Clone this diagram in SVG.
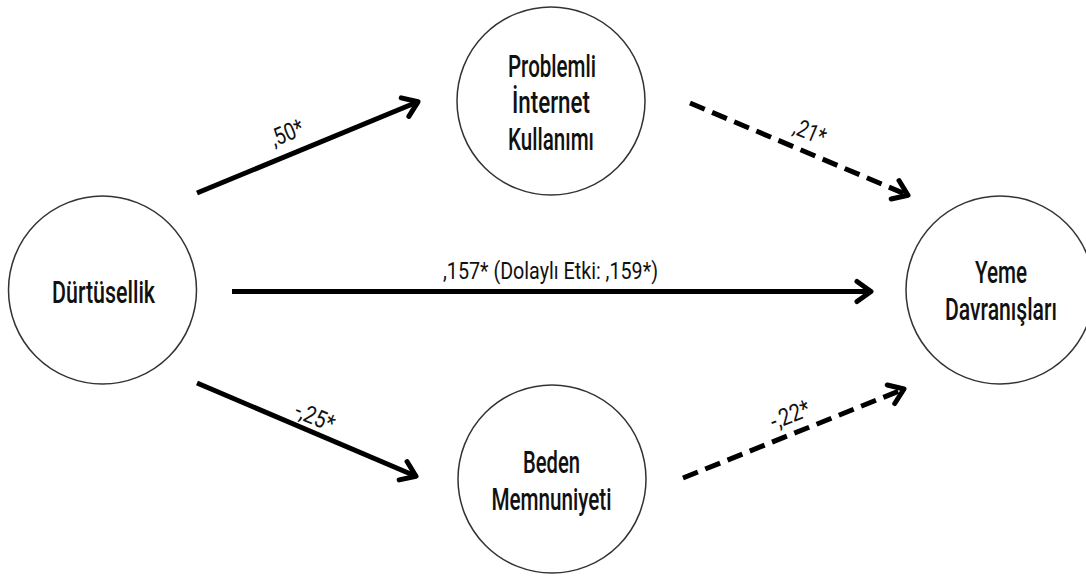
<svg xmlns="http://www.w3.org/2000/svg" width="1086" height="577" viewBox="0 0 1086 577">
<defs>
<style>
.node circle{fill:#fff;stroke:#333;stroke-width:1.5}
.nt{font-family:Roboto,"DejaVu Sans",sans-serif;font-weight:500;font-size:32px;fill:#111;text-anchor:middle}
.lbl{font-family:Roboto,"DejaVu Sans",sans-serif;font-weight:400;font-size:24px;fill:#111;text-anchor:middle}
.edge{fill:none;stroke:#000;stroke-width:5;marker-end:url(#arrow)}
.dash{stroke-dasharray:16 8}
</style>
<marker id="arrow" markerUnits="userSpaceOnUse" markerWidth="30" markerHeight="30" viewBox="-20 -15 30 30" refX="0" refY="0" orient="auto">
<path d="M-14,-10 L0,0 L-14,10" fill="none" stroke="#000" stroke-width="5" stroke-linecap="round" stroke-linejoin="round"/>
</marker>
</defs>
<rect width="1086" height="577" fill="#fff"/>
<g id="connectors">
<path class="edge" d="M197,193 L418,101.8"/>
<path class="edge dash" d="M690,103 L908,195.2"/>
<path class="edge" d="M232,291.5 L871,291.5"/>
<path class="edge" d="M197,383 L416,476.2"/>
<path class="edge dash" d="M683,478 L904,389"/>
<text class="lbl" transform="translate(287,133) rotate(-22.4)" y="8" textLength="34" lengthAdjust="spacingAndGlyphs">,50*</text>
<text class="lbl" transform="translate(810,132) rotate(22.8)" y="8" textLength="33" lengthAdjust="spacingAndGlyphs">,21*</text>
<text class="lbl" x="550.5" y="279" textLength="215" lengthAdjust="spacingAndGlyphs">,157* (Dolaylı Etki: ,159*)</text>
<text class="lbl" transform="translate(315,417) rotate(22.8)" y="8" textLength="41" lengthAdjust="spacingAndGlyphs">-,25*</text>
<text class="lbl" transform="translate(790,415) rotate(-22)" y="8" textLength="41" lengthAdjust="spacingAndGlyphs">-,22*</text>
</g>
<g id="node-durtusellik" class="node">
<circle cx="102.5" cy="290" r="94"/>
<text class="nt" x="103.5" y="303" textLength="103" lengthAdjust="spacingAndGlyphs">Dürtüsellik</text>
</g>
<g id="node-problemli" class="node">
<circle cx="551" cy="101" r="94"/>
<text class="nt" x="552" y="77" textLength="88" lengthAdjust="spacingAndGlyphs">Problemli</text>
<text class="nt" x="551" y="113" textLength="78" lengthAdjust="spacingAndGlyphs">İnternet</text>
<text class="nt" x="551" y="150" textLength="86" lengthAdjust="spacingAndGlyphs">Kullanımı</text>
</g>
<g id="node-beden" class="node">
<circle cx="552" cy="479" r="94"/>
<text class="nt" x="551.5" y="473" textLength="57" lengthAdjust="spacingAndGlyphs">Beden</text>
<text class="nt" x="551.5" y="510" textLength="120" lengthAdjust="spacingAndGlyphs">Memnuniyeti</text>
</g>
<g id="node-yeme" class="node">
<circle cx="1000" cy="290" r="94"/>
<text class="nt" x="1001" y="283" textLength="52" lengthAdjust="spacingAndGlyphs">Yeme</text>
<text class="nt" x="1001" y="320" textLength="112" lengthAdjust="spacingAndGlyphs">Davranışları</text>
</g>
</svg>
